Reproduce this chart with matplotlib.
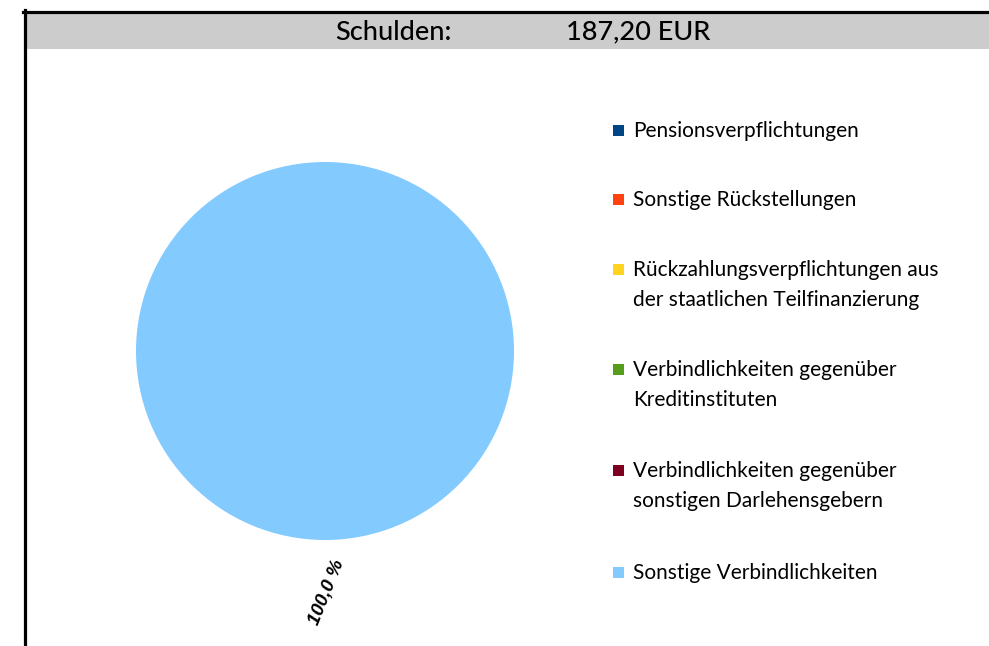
import matplotlib.pyplot as plt
from matplotlib.patches import Rectangle
import numpy as np

plt.rcParams['font.family'] = ['Lato', 'DejaVu Sans']

categories = [
    "Pensionsverpflichtungen",
    "Sonstige Rückstellungen",
    "Rückzahlungsverpflichtungen aus\nder staatlichen Teilfinanzierung",
    "Verbindlichkeiten gegenüber\nKreditinstituten",
    "Verbindlichkeiten gegenüber\nsonstigen Darlehensgebern",
    "Sonstige Verbindlichkeiten",
]
values = [0.0, 0.0, 0.0, 0.0, 0.0, 187.20]
colors = ["#004586", "#ff420e", "#ffd320", "#579d1c", "#7e0021", "#83caff"]
title_label = "Schulden:"
title_value = "187,20 EUR"

W, H = 989, 646
fig = plt.figure(figsize=(W / 100, H / 100), dpi=100)

def fx(px):
    return px / W

def fy(py):
    return 1 - py / H

# frame and header band
fig.patches.append(Rectangle((fx(25), fy(49)), fx(W - 25), (49 - 13) / H,
                             transform=fig.transFigure, facecolor="#cccccc",
                             edgecolor="none", zorder=0))
fig.add_artist(plt.Line2D([fx(24.5), fx(24.5)], [fy(10), fy(H + 5)],
                          transform=fig.transFigure, color="black", lw=2.3))
fig.add_artist(plt.Line2D([fx(23), fx(W + 5)], [fy(11.5), fy(11.5)],
                          transform=fig.transFigure, color="black", lw=2.3))
fig.text(fx(393), fy(32), title_label, ha="center", va="center", fontsize=19.5,
         fontweight="medium")
fig.text(fx(638), fy(32), title_value, ha="center", va="center", fontsize=19.5,
         fontweight="medium")

# pie
cx, cy, r = 325, 351, 189
ax = fig.add_axes([fx(cx - r), fy(cy + r), 2 * r / W, 2 * r / H])
ax.pie(values, colors=colors, startangle=90, counterclock=False, radius=1,
       wedgeprops=dict(linewidth=0))
ax.set_xlim(-1, 1)
ax.set_ylim(-1, 1)
ax.set_aspect("equal")
ax.axis("off")

total = sum(values)
start = 90.0
for v in values:
    if v <= 0:
        continue
    share = v / total
    mid = np.deg2rad(start - share * 360 / 2)
    start -= share * 360
    pct = f"{share * 100:.1f}".replace(".", ",") + " %"
    ax.text(1.275 * np.cos(mid) + 0.01, 1.275 * np.sin(mid), pct,
            rotation=68, ha="center", va="center", fontsize=13.5,
            fontweight="bold", fontstyle="italic", clip_on=False,
            family=["Liberation Sans", "DejaVu Sans"])

# legend
ys = [131, 200, 270, 370, 471, 573]
for lab, col, y in zip(categories, colors, ys):
    fig.patches.append(Rectangle((fx(613), fy(y + 5)), 11 / W, 11 / H,
                                 transform=fig.transFigure, facecolor=col,
                                 edgecolor="none"))
    fig.text(fx(633), fy(y - 10), lab, ha="left", va="top", fontsize=15,
             linespacing=1.62)

fig.savefig("out.png", dpi=100)
